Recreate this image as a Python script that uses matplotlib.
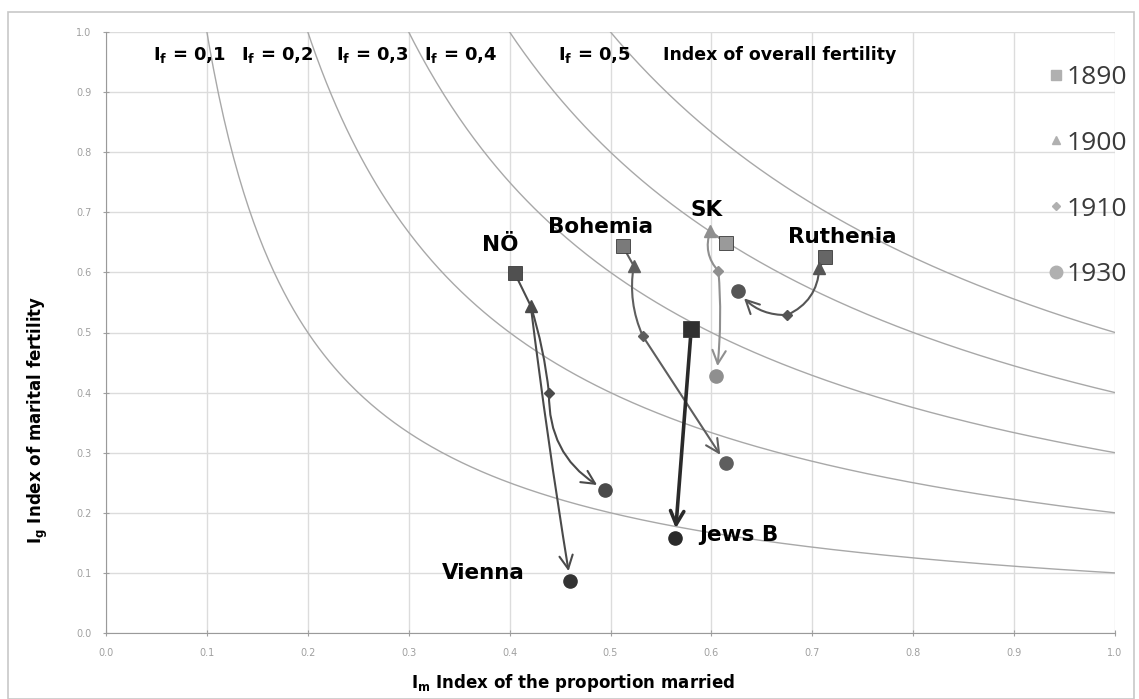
import numpy as np
import matplotlib.pyplot as plt
from matplotlib.lines import Line2D
from matplotlib.patches import FancyArrowPatch, Rectangle

# I_m (proportion married) and I_g (marital fertility) per region and year
regions = ["NÖ", "Bohemia", "SK", "Ruthenia", "Jews B"]
im_1890 = [0.405, 0.512, 0.614, 0.713, 0.580]
ig_1890 = [0.599, 0.644, 0.649, 0.626, 0.506]
im_1900 = [0.421, 0.523, 0.599, 0.707, np.nan]
ig_1900 = [0.544, 0.611, 0.669, 0.607, np.nan]
im_1910 = [0.439, 0.532, 0.607, 0.675, np.nan]
ig_1910 = [0.399, 0.494, 0.602, 0.529, np.nan]
im_1930 = [0.495, 0.614, 0.605, 0.626, 0.564]
ig_1930 = [0.238, 0.283, 0.428, 0.569, 0.158]
vienna_im_1930 = 0.460
vienna_ig_1930 = 0.087

# iso-lines of overall fertility I_f = I_m * I_g
if_levels = [0.1, 0.2, 0.3, 0.4, 0.5]
if_labels = ["I$_\\mathregular{f}$ = 0,1", "I$_\\mathregular{f}$ = 0,2", "I$_\\mathregular{f}$ = 0,3",
             "I$_\\mathregular{f}$ = 0,4", "I$_\\mathregular{f}$ = 0,5"]
years = ["1890", "1900", "1910", "1930"]

colors = {"NÖ": "#4a4a4a", "Bohemia": "#5e5e5e", "SK": "#8f8f8f",
          "Ruthenia": "#555555", "Jews B": "#2a2a2a"}
sq_colors = {"NÖ": "#505050", "Bohemia": "#7a7a7a", "SK": "#9a9a9a",
             "Ruthenia": "#666666", "Jews B": "#303030"}

fig = plt.figure(figsize=(11.39, 6.99), dpi=100)
ax = fig.add_axes([106 / 1139, 1 - 633 / 699, (1115 - 106) / 1139, (633 - 32) / 699])

# outer chart frame
fig.patches.append(Rectangle((8 / 1139, 0.0), 1126 / 1139, 1 - 12 / 699, transform=fig.transFigure,
                             fill=False, edgecolor="#c8c8c8", linewidth=1.2))

ax.set_xlim(0, 1)
ax.set_ylim(0, 1)
ax.set_xticks(np.arange(0, 1.01, 0.1))
ax.set_yticks(np.arange(0, 1.01, 0.1))
ax.xaxis.set_major_formatter(plt.FormatStrFormatter("%.1f"))
ax.yaxis.set_major_formatter(plt.FormatStrFormatter("%.1f"))
ax.tick_params(labelsize=7, colors="#a0a0a0", direction="inout", length=5, width=0.8, pad=8)
ax.grid(True, color="#dcdcdc", linewidth=1)
ax.set_axisbelow(True)
for s in ["top", "right"]:
    ax.spines[s].set_visible(False)
for s in ["left", "bottom"]:
    ax.spines[s].set_color("#9a9a9a")

xs = np.linspace(0.01, 1, 400)
for lev in if_levels:
    ax.plot(xs, lev / xs, color="#a8a8a8", linewidth=1, zorder=1)

label_x = [0.083, 0.170, 0.264, 0.352, 0.484]
for lx, lab in zip(label_x, if_labels):
    ax.text(lx, 0.962, lab, ha="center", va="center", fontsize=13, fontweight="bold",
            family=["Liberation Sans Narrow", "DejaVu Sans"])
ax.text(0.668, 0.962, "Index of overall fertility", ha="center", va="center", fontsize=12.5,
        fontweight="bold", family=["Liberation Sans Narrow", "DejaVu Sans"])


def arrow(p0, p1, color, rad=0.0, lw=1.5, head=True):
    style = "->,head_length=6,head_width=3" if head else "-"
    a = FancyArrowPatch(p0, p1, arrowstyle=style, connectionstyle=f"arc3,rad={rad}",
                        color=color, linewidth=lw, shrinkA=0, shrinkB=7 if head else 0, zorder=3,
                        mutation_scale=1.6)
    ax.add_patch(a)


# connecting paths
bends = {"NÖ": (0.0, -0.05, 0.3), "Bohemia": (0.0, 0.15, 0.0),
         "SK": (0.0, 0.3, -0.05), "Ruthenia": (0.0, -0.3, -0.25)}
for i, r in enumerate(regions):
    c = colors[r]
    if r == "Jews B":
        arrow((im_1890[i], ig_1890[i]), (im_1930[i], ig_1930[i]), c, lw=2.6)
        continue
    b1, b2, b3 = bends[r]
    arrow((im_1890[i], ig_1890[i]), (im_1900[i], ig_1900[i]), c, rad=b1, head=False)
    arrow((im_1900[i], ig_1900[i]), (im_1910[i], ig_1910[i]), c, rad=b2, head=False)
    arrow((im_1910[i], ig_1910[i]), (im_1930[i], ig_1930[i]), c, rad=b3)
# Vienna split off from Lower Austria
arrow((im_1900[0], ig_1900[0]), (vienna_im_1930, vienna_ig_1930), colors["NÖ"], rad=0.01)

# markers
for i, r in enumerate(regions):
    c = colors[r]
    ms = 12 if r == "Jews B" else 9.5
    ax.plot(im_1890[i], ig_1890[i], "s", ms=ms, color=sq_colors[r], mec="#3a3a3a", mew=0.6, zorder=4)
    ax.plot(im_1900[i], ig_1900[i], "^", ms=8, color=c, zorder=4)
    ax.plot(im_1910[i], ig_1910[i], "D", ms=5.5, color=c, zorder=4)
    ax.plot(im_1930[i], ig_1930[i], "o", ms=9.5, color=c, zorder=4)
ax.plot(vienna_im_1930, vienna_ig_1930, "o", ms=9.5, color="#333333", zorder=4)

# region labels
lab_kw = dict(fontsize=15.5, fontweight="bold", ha="center", va="center")
ax.text(0.391, 0.646, "NÖ", **lab_kw)
ax.text(0.490, 0.676, "Bohemia", **lab_kw)
ax.text(0.595, 0.703, "SK", **lab_kw)
ax.text(0.730, 0.659, "Ruthenia", **lab_kw)
ax.text(0.627, 0.163, "Jews B", **lab_kw)
ax.text(0.374, 0.100, "Vienna", **lab_kw)

# legend
handles = [Line2D([], [], ls="none", marker=m, ms=s, color="#b0b0b0")
           for m, s in zip(["s", "^", "D", "o"], [7, 6, 4.5, 9])]
fig.legend(handles, years, loc="upper left", bbox_to_anchor=(1022 / 1139, 1 - 41 / 699),
           frameon=False, labelspacing=1.55, handlelength=0.8, handletextpad=0.0,
           labelcolor="#3a3a3a", prop={"family": ["Open Sans", "DejaVu Sans"], "size": 19})

fig.text(573 / 1139, 1 - 683 / 699, "I$_\\mathregular{m}$ Index of the proportion married",
         ha="center", va="center", fontsize=12, fontweight="bold",
         family=["Liberation Sans Narrow", "DejaVu Sans"])
fig.text(38 / 1139, 1 - 420 / 699, "I$_\\mathregular{g}$ Index of marital fertility",
         ha="center", va="center", rotation=90, fontsize=12, fontweight="bold",
         family=["Liberation Sans Narrow", "DejaVu Sans"])

fig.savefig("out.png", dpi=100)
